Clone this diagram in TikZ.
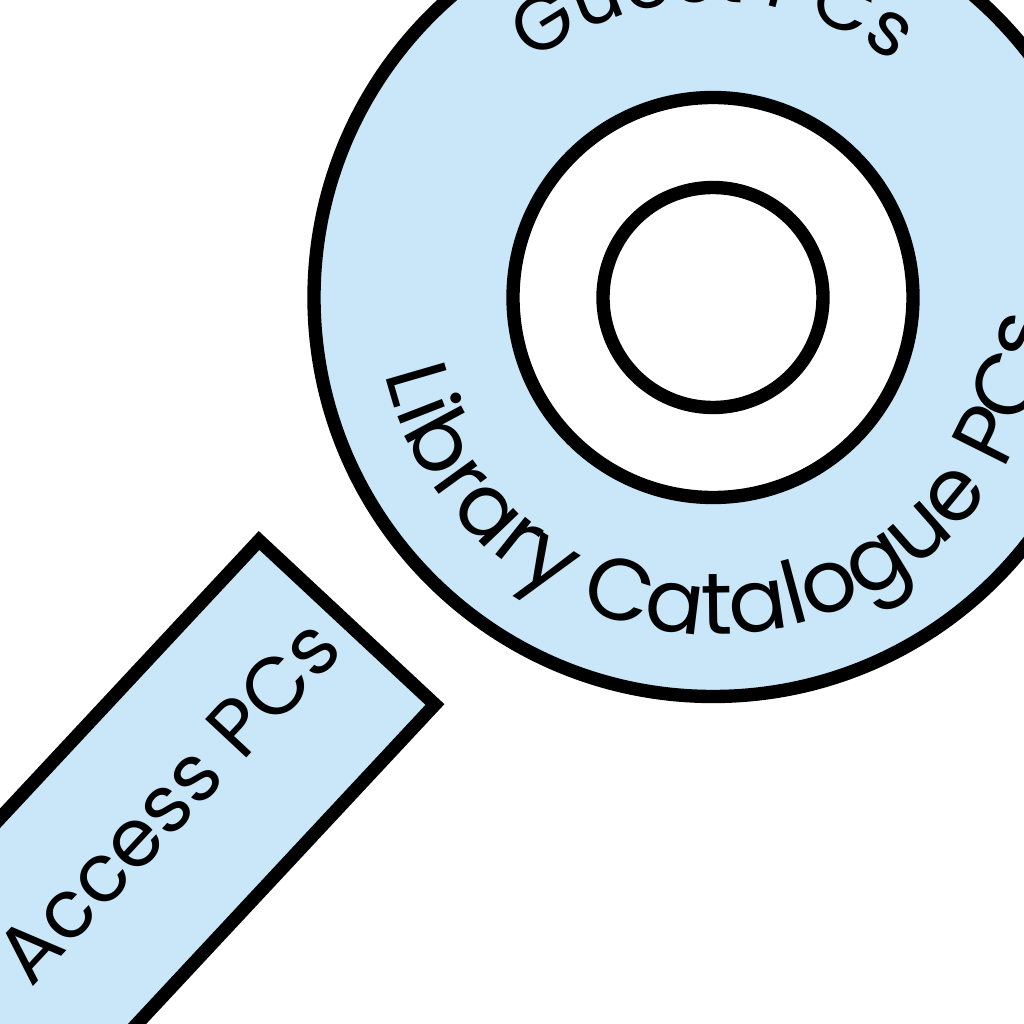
\documentclass[tikz,border=0pt]{standalone}
\usepackage{fontspec}
\setmainfont{Poppins}
\usetikzlibrary{decorations.text}
\definecolor{pcblue}{RGB}{201,231,248}
\newcommand{\labelfont}{\fontsize{23}{28}\selectfont}

\begin{document}
\begin{tikzpicture}[ring/.style={draw=black,line width=3.8pt}]
				\useasboundingbox (0,0) rectangle (10.24,10.24);
				\clip (0,0) rectangle (10.24,10.24);
				\coordinate (c) at (7.13,7.265);
				\draw [ring,fill=pcblue](c)circle(3.99);
				\draw [ring,fill=white](c)circle(2.0);
				\draw [ring,fill=white](c)circle(1.1);
				\path [decorate,decoration={text along path,text align=center,text={|\fontsize{21.8}{26}\selectfont|Guest PCs}}](c)++(180:2.96)arc[start angle=180,end angle=0,radius=2.96];
				\path [decorate,decoration={text along path,text align=center,text={|\fontsize{24.8}{30}\selectfont|Library Catalogue PCs}}](c)++(185:3.37)arc[start angle=185,end angle=365,radius=3.37];
				\begin{scope}[shift={(3.47,4.015)},rotate=47]
				\draw [ring,fill=pcblue](0,-1.2025)rectangle(-9,1.2025);
				\end{scope}
				\node (access) [anchor=base east,rotate=47,inner sep=0pt,font=\labelfont] at (3.459,3.724) {Access PCs};
				
			\end{tikzpicture}
\end{document}
